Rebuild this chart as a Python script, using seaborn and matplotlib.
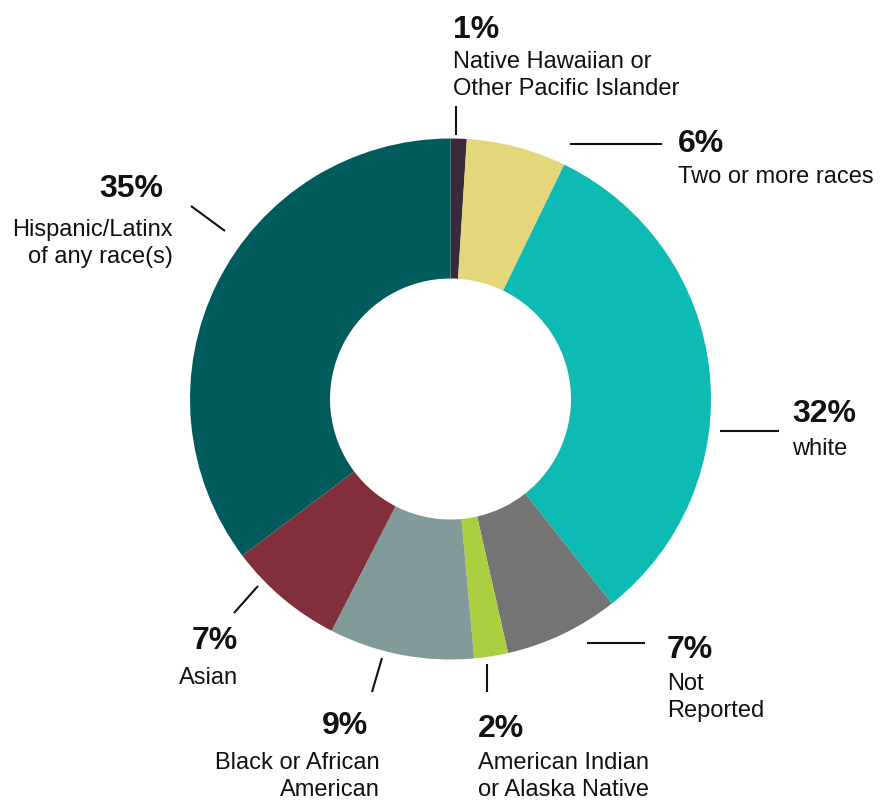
import matplotlib
matplotlib.use("Agg")
import matplotlib.pyplot as plt
import seaborn as sns

# data (clockwise from 12 o'clock)
categories = ["Native Hawaiian or\nOther Pacific Islander", "Two or more races", "white",
              "Not\nReported", "American Indian\nor Alaska Native",
              "Black or African\nAmerican", "Asian", "Hispanic/Latinx\nof any race(s)"]
values = [1.0, 6.2, 32.2, 7.1, 2.1, 9.0, 7.2, 35.3]
colors = ["#3b2a3c", "#e4d67b", "#0dbab4", "#747474", "#abd03f", "#839a9b", "#81303b", "#005c5c"]

# label layout in pixels from top-left: x, pct baseline, text baseline, align, pct shift, leader line
layout = [
    (453, 38, 68, "left", 0, (456, 107), (456, 136)),
    (678, 152, 183, "left", 0, (570, 145), (662, 145)),
    (792, 422, 455, "left", 0, (720, 432), (779, 432)),
    (667, 658, 690, "left", 0, (587, 644), (645, 644)),
    (478, 737, 769, "left", 0, (487, 665), (487, 693)),
    (380, 734, 769, "right", 12, (382, 659), (372, 693)),
    (238, 649, 684, "right", 0, (258, 587), (234, 614)),
    (173, 197, 236, "right", 10, (225, 232), (191, 207)),
]

W, H = 886, 804
sns.set_style("white")
plt.rcParams["font.family"] = ["Liberation Sans", "DejaVu Sans"]

fig = plt.figure(figsize=(W / 100, H / 100), dpi=100)
ax = fig.add_axes([0, 0, 1, 1])

ax.pie(values, colors=colors, startangle=90, counterclock=False,
       radius=260.5, center=(450.5, H - 400),
       wedgeprops=dict(width=140, linewidth=0))

def Y(y):
    return H - y

line_step = 27
for cat, val, lay in zip(categories, values, layout):
    x, pct_base, txt_base, ha, pct_off, p0, p1 = lay
    ax.text(x - pct_off, Y(pct_base), f"{round(val)}%", ha=ha, va="baseline",
            fontsize=23, fontweight="bold", color="#111111")
    for i, line in enumerate(cat.split("\n")):
        ax.text(x, Y(txt_base + i * line_step), line, ha=ha, va="baseline",
                fontsize=17, color="#111111")
    ax.plot([p0[0], p1[0]], [Y(p0[1]), Y(p1[1])], color="#111111", lw=1.5,
            solid_capstyle="butt")

ax.set_xlim(0, W)
ax.set_ylim(0, H)
ax.set_aspect("equal")
ax.axis("off")

fig.savefig("out.png", dpi=100)
